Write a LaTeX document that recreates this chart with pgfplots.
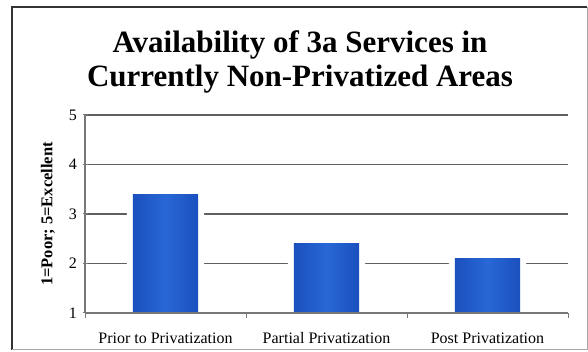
\documentclass[border=0pt]{standalone}
\usepackage{pgfplots}
\pgfplotsset{compat=1.18}
\usepackage{fontspec}
\setmainfont{Liberation Serif}
\definecolor{barmid}{RGB}{40,104,214}
\definecolor{baredge}{RGB}{26,80,190}
\definecolor{gridc}{RGB}{95,95,95}
\definecolor{axc}{RGB}{120,120,120}
\begin{document}
\begin{tikzpicture}
\useasboundingbox (0pt,0pt) rectangle (588pt,352pt);
\fill[white] (0pt,0pt) rectangle (588pt,352pt);
\draw[line width=1.8pt, black!80] (12pt,2pt) -- (12pt,345pt) -- (587pt,345pt);
\draw[line width=1pt, black!35] (12pt,2pt) -- (587pt,2pt) -- (587pt,345pt);
\node[anchor=base, font=\bfseries\fontsize{31}{36}\selectfont] at (300pt,299pt) {Availability of 3a Services in};
\node[anchor=base, font=\bfseries\fontsize{31}{36}\selectfont] at (300pt,265pt) {Currently Non-Privatized Areas};
\begin{axis}[
  at={(85pt,39pt)}, anchor=south west,
  scale only axis, width=483pt, height=198pt,
  xmin=-0.5, xmax=2.5, ymin=1, ymax=5,
  ytick={1,2,3,4,5},
  xtick={0,1,2},
  xticklabels={Prior to Privatization, Partial Privatization, Post Privatization},
  minor xtick={-0.5,0.5,1.5,2.5},
  xtick style={draw=none},
  minor x tick style={draw=axc, line width=1pt},
  major tick length=5pt, minor tick length=5pt, tick align=outside,
  ytick style={axc, line width=1pt},
  axis x line=bottom, axis y line=left,
  axis line style={-, axc, line width=1.2pt},
  ymajorgrids, major grid style={gridc, line width=1.1pt},
  /pgf/number format/assume math mode=true,
  tick label style={font=\fontsize{16}{19}\selectfont},
  yticklabel style={xshift=-2pt},
  xticklabel style={yshift=-11pt},
  ylabel={\textbf{1=Poor; 5=Excellent}},
  every axis y label/.style={at={(axis description cs:-0.077,0.5)}, rotate=90, anchor=center, font=\fontsize{16.5}{19}\selectfont},
  ybar, bar shift=0pt,
]
\addplot[fill=white, draw=none, bar width=0.48, bar shift=0pt] coordinates {(0,3.4) (1,2.4) (2,2.1)};
\addplot[draw=none, left color=baredge, right color=baredge, middle color=barmid, bar width=0.405, bar shift=0pt] coordinates {(0,3.4)};
\addplot[draw=none, left color=baredge, right color=baredge, middle color=barmid, bar width=0.405, bar shift=0pt] coordinates {(1,2.4)};
\addplot[draw=none, left color=baredge, right color=baredge, middle color=barmid, bar width=0.405, bar shift=0pt] coordinates {(2,2.1)};
\draw[axc, line width=1.2pt] (rel axis cs:0,0) -- (rel axis cs:1,0);
\end{axis}
\end{tikzpicture}
\end{document}
